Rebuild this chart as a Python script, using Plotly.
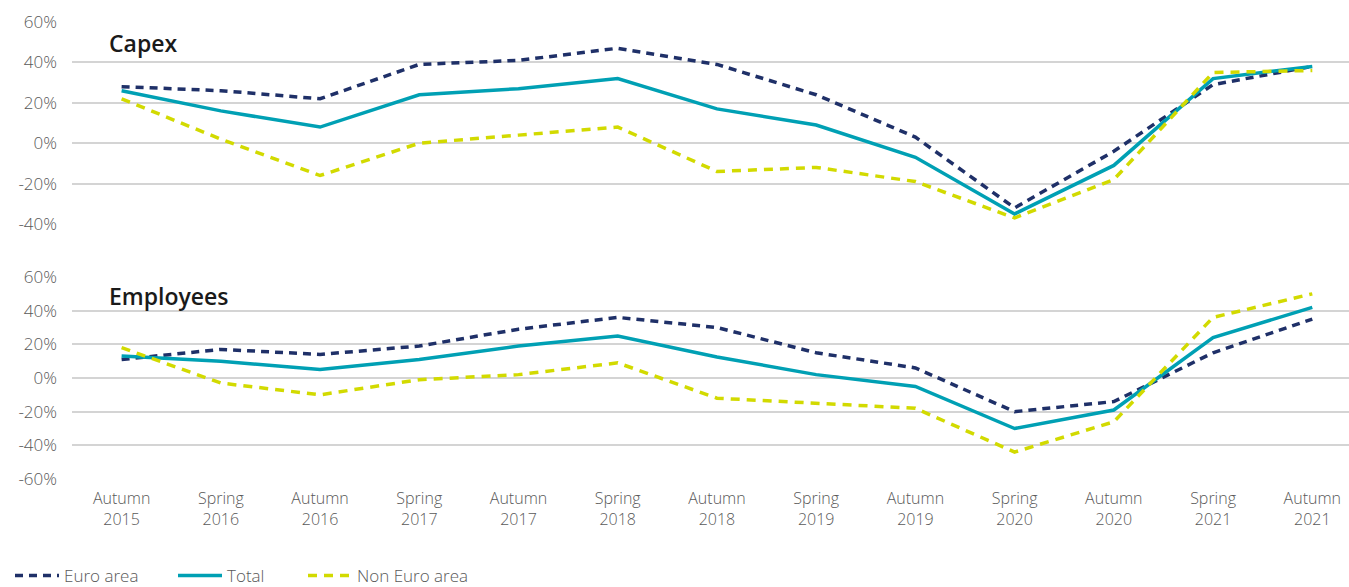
import plotly.graph_objects as go

categories = ["Autumn<br>2015", "Spring<br>2016", "Autumn<br>2016", "Spring<br>2017",
              "Autumn<br>2017", "Spring<br>2018", "Autumn<br>2018", "Spring<br>2019",
              "Autumn<br>2019", "Spring<br>2020", "Autumn<br>2020", "Spring<br>2021",
              "Autumn<br>2021"]

capex_euro = [28, 26, 22, 39, 41, 47, 39, 24, 3, -32, -4, 29, 38]
capex_total = [26, 16, 8, 24, 27, 32, 17, 9, -7, -35, -11, 32, 38]
capex_non_euro = [22, 2, -16, 0, 4, 8, -14, -12, -19, -37, -18, 35, 36]

emp_euro = [11, 17, 14, 19, 29, 36, 30, 15, 6, -20, -14, 15, 35]
emp_total = [13, 10, 5, 11, 19, 25, 12.5, 2, -5, -30, -19, 24, 42]
emp_non_euro = [18, -3, -10, -1, 2, 9, -12, -15, -18, -44, -26, 36, 50]

capex_ticks = [-40, -20, 0, 20, 40, 60]
capex_ticktext = ["-40%", "-20%", "0%", "20%", "40%", "60%"]
emp_ticks = [-60, -40, -20, 0, 20, 40, 60]
emp_ticktext = ["-60%", "-40%", "-20%", "0%", "20%", "40%", "60%"]

NAVY = "#1f3068"
TEAL = "#00a0b4"
LIME = "#d2da00"
FONT = "Open Sans"
GREY = "#595959"
GRID = "#d4d4d4"

W, H = 1349, 587

fig = go.Figure()

series = [
    ("Euro area", capex_euro, emp_euro, dict(color=NAVY, width=3.5, dash="8px,6px"), "legend"),
    ("Total", capex_total, emp_total, dict(color=TEAL, width=3.5), "legend2"),
    ("Non Euro area", capex_non_euro, emp_non_euro, dict(color=LIME, width=3.5, dash="9px,7px"), "legend3"),
]

for name, top, bottom, line, leg in series:
    fig.add_trace(go.Scatter(x=categories, y=top, mode="lines", name=name, line=line,
                             xaxis="x", yaxis="y", showlegend=True, legend=leg,
                             hoverinfo="skip"))
    fig.add_trace(go.Scatter(x=categories, y=bottom, mode="lines", name=name, line=line,
                             xaxis="x2", yaxis="y2", showlegend=False, hoverinfo="skip"))

xrange_ = [-0.5, 12.37]
xdom = [72 / W, 1]
ytick_font = dict(family=FONT, size=17, color=GREY, weight=300)
xtick_font = dict(family=FONT, size=16, color=GREY, weight=300)
leg_font = dict(family=FONT, size=17, color=GREY, weight=300)


def yaxis(dom, rng, tv, tt, anchor):
    return dict(domain=dom, anchor=anchor, range=rng, tickvals=tv, ticktext=tt,
                showgrid=True, gridcolor=GRID, gridwidth=1.5,
                zeroline=True, zerolinecolor=GRID, zerolinewidth=1.5,
                showline=False, ticks="", tickfont=ytick_font, ticklabelstandoff=14,
                automargin=False)


def legend(xpx):
    return dict(orientation="h", x=xpx / W, xanchor="left", y=1 - 576 / H, yanchor="middle",
                font=leg_font, bgcolor="rgba(0,0,0,0)", borderwidth=0, itemwidth=44)


fig.update_layout(
    width=W, height=H,
    margin=dict(l=0, r=0, t=0, b=0, autoexpand=False),
    paper_bgcolor="white", plot_bgcolor="white",
    font=dict(family=FONT, color=GREY),
    xaxis=dict(domain=xdom, anchor="y", type="category", range=xrange_,
               showticklabels=False, showgrid=False, zeroline=False, showline=False,
               ticks="", automargin=False),
    yaxis=yaxis([1 - 224 / H, 1 - 22 / H], [-40, 60], capex_ticks, capex_ticktext, "x"),
    xaxis2=dict(domain=xdom, anchor="y2", type="category", range=xrange_,
                showgrid=False, zeroline=False, showline=False, ticks="",
                tickfont=xtick_font, ticklabelstandoff=8, automargin=False),
    yaxis2=yaxis([1 - 479 / H, 1 - 277 / H], [-60, 60], emp_ticks, emp_ticktext, "x2"),
    legend=legend(10),
    legend2=legend(173),
    legend3=legend(303),
    annotations=[
        dict(text="Capex", xref="paper", yref="paper", x=107 / W, y=1 - 43 / H,
             xanchor="left", yanchor="middle", showarrow=False,
             font=dict(family=FONT, size=23, color="#1a1a1a", weight=600)),
        dict(text="Employees", xref="paper", yref="paper", x=107 / W, y=1 - 296 / H,
             xanchor="left", yanchor="middle", showarrow=False,
             font=dict(family=FONT, size=23, color="#1a1a1a", weight=600)),
    ],
)

fig.write_html("out.html", config={"displayModeBar": False},
               post_script="document.body.style.margin='0';document.body.style.overflow='hidden';")
